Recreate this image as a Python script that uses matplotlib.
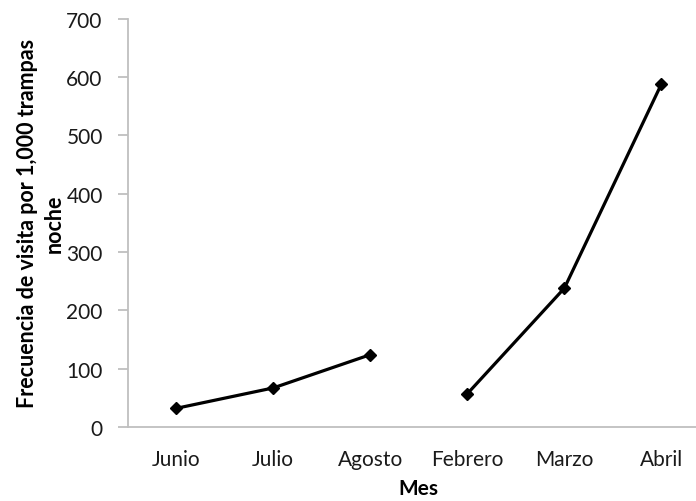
import matplotlib.pyplot as plt
import numpy as np

# categories and values
meses = ['Junio', 'Julio', 'Agosto', 'Febrero', 'Marzo', 'Abril']
frecuencia = [32, 67, 124, 57, 238, 588]
# the line breaks between Agosto and Febrero (two seasons)
temporada_1 = [0, 1, 2]
temporada_2 = [3, 4, 5]

plt.rcParams['font.family'] = ['Lato', 'DejaVu Sans']

fig = plt.figure(figsize=(6.96, 5.02), dpi=100)
ax = fig.add_axes([0.1835, 0.1474, 0.8365, 0.8134])

x = np.arange(len(meses))
y = np.array(frecuencia, dtype=float)
for idx in (temporada_1, temporada_2):
    ax.plot(x[idx], y[idx], color='black', linewidth=2.3,
            marker='D', markersize=6.5, markerfacecolor='black')

ax.set_xlim(-0.5, len(meses) - 0.5)
ax.set_ylim(0, 700)
ax.set_yticks(range(0, 701, 100))
ax.set_xticks(x)
ax.set_xticklabels(meses)

for side in ('top', 'right'):
    ax.spines[side].set_visible(False)
for side in ('left', 'bottom'):
    ax.spines[side].set_color('#bfbfbf')
    ax.spines[side].set_linewidth(1.3)

ax.tick_params(axis='y', length=7, width=1.3, color='#bfbfbf', labelsize=15,
               labelcolor='#1a1a1a', pad=11)
ax.tick_params(axis='x', length=0, labelsize=15, labelcolor='#1a1a1a', pad=16)

ax.set_xlabel('Mes', fontsize=15, fontweight='bold', labelpad=6)
ax.set_ylabel('Frecuencia de visita por 1,000 trampas\nnoche', fontsize=15.5,
              fontweight='bold', labelpad=1, linespacing=1.35)

fig.savefig('out.png', dpi=100)
